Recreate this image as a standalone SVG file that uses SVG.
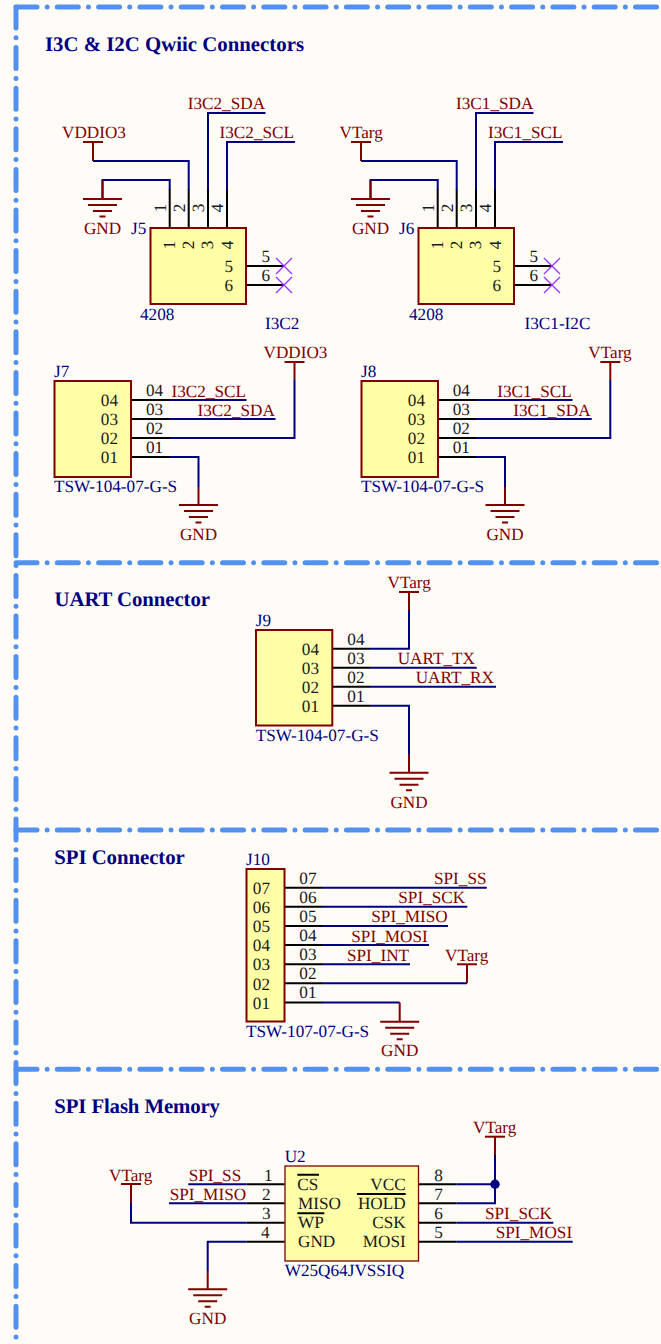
<svg xmlns="http://www.w3.org/2000/svg" xmlns:xlink="http://www.w3.org/1999/xlink" width="661" height="1344" viewBox="0 0 661 1344">
<style>
text{font-family:"Liberation Serif","Times New Roman",serif;font-size:17.2px;text-rendering:geometricPrecision}
.t{font-size:20.8px;font-weight:bold;fill:#000080}
.n{fill:#800000}
.d{fill:#000080}
.p{fill:#1a1a1a}
.e{text-anchor:end}
.m{text-anchor:middle}
.box{fill:#FFFFA8;stroke:#800000;stroke-width:2}
.pin{fill:none;stroke:#000;stroke-width:2}
.w{fill:none;stroke:#000080;stroke-width:2}
.r{fill:none;stroke:#800000;stroke-width:2}
.x{fill:none;stroke:#9933FF;stroke-width:1.300}
.fh{fill:none;stroke:#5291EE;stroke-width:5;stroke-linecap:round;stroke-dasharray:21 10.15 0 10.15}
.fv{fill:none;stroke:#5291EE;stroke-width:5;stroke-linecap:round;stroke-dasharray:21 9.8 0 9.8}
</style>
<defs>
<g id="gnd"><path class="r" d="M-19.500 0H19.500M-14.500 6H14.500M-9.500 12H9.500M-3 17.500H3"/></g>
<g id="pwr"><path class="r" d="M-10 0H10"/></g>
<g id="nc"><path class="x" d="M-8-8L8 8M-8 8L8-8"/></g>
</defs>
<rect width="661" height="1344" fill="#FFFCF8"/>
<g id="frame">
<path class="fv" d="M16 7V1344"/>
<path class="fh" d="M16 7H661"/>
<path class="fh" d="M16 562.700H661"/>
<path class="fh" d="M16 830H661"/>
<path class="fh" d="M16 1069.300H661"/>
</g>
<g id="titles">
<text class="t" x="45" y="51" textLength="259">I3C &amp; I2C Qwiic Connectors</text>
<text class="t" x="54.500" y="606" textLength="155.500">UART Connector</text>
<text class="t" x="54.300" y="864.300" textLength="130.500">SPI Connector</text>
<text class="t" x="54.300" y="1113.300" textLength="165.700">SPI Flash Memory</text>
</g>
<g id="connectors">
<path class="w" d="M102.500 199V180H169.700V190"/>
<path class="w" d="M93 161H188.700V190"/>
<path class="r" d="M93 142V161"/>
<path class="w" d="M208 190V113H265.500"/>
<path class="w" d="M227 190V142H295"/>
<path class="w" d="M370.500 199V180H437.700V190"/>
<path class="w" d="M361 161H456.700V190"/>
<path class="r" d="M361 142V161"/>
<path class="w" d="M476 190V113H533.500"/>
<path class="w" d="M495 190V142H563"/>
<path class="r" d="M102.500 180V199M370.500 180V199"/>
<path class="w" d="M169 400H246.500M169 419H275.500M169 438H294.500V380M169 457H198.500V487"/>
<path class="r" d="M294.500 362V380M198.500 487V505"/>
<path class="w" d="M476 400H572.500M476 419H591.700M476 438H610.300V380M476 457H505V487"/>
<path class="r" d="M610.300 362V380M505 487V505"/>
<path class="w" d="M370 648.700H409V610M370 667.700H476.700M370 686.700H496M370 705.700H409V754"/>
<path class="r" d="M409 592V610M409 754V772.700"/>
<path class="w" d="M322 887.700H486.700M322 906.700H467.300M322 926H448M322 945H429M322 964.300H410M322 983.300H467M322 1002.500H399.700"/>
<path class="r" d="M467 964.300V983.300M399.700 1002.500V1021.700"/>
<path class="w" d="M246.700 1184.300H188.300M246.700 1203.300H169M246.700 1222.700H131V1203M246.700 1241.700H207.700V1271"/>
<path class="r" d="M131 1184V1203M207.700 1271V1289.300"/>
<path class="w" d="M456.700 1184.300H495M456.700 1203.300H495V1155M456.700 1222.700H553.300M456.700 1241.700H572.700"/>
<path class="r" d="M495 1136.700V1155"/>
<circle cx="495" cy="1184.300" r="4.700" fill="#000080"/>
</g>
<g id="J5">
<path class="pin" d="M169.700 189.500V228M188.700 189.500V228M208 189.500V228M227 189.500V228M246 266H284M246 285H284"/>
<rect class="box" x="150.500" y="228" width="95.500" height="76"/>
<use xlink:href="#nc" href="#nc" x="284" y="266"/><use xlink:href="#nc" href="#nc" x="284" y="285"/>
<text class="d" x="131" y="234">J5</text><text class="d" x="140" y="320">4208</text><text class="d" x="265" y="329">I3C2</text>
<text class="p m" transform="translate(166 208) rotate(-90)">1</text><text class="p m" transform="translate(184.800 208) rotate(-90)">2</text><text class="p m" transform="translate(204 208) rotate(-90)">3</text><text class="p m" transform="translate(223 208) rotate(-90)">4</text>
<text class="p m" transform="translate(175 245) rotate(-90)">1</text><text class="p m" transform="translate(194 245) rotate(-90)">2</text><text class="p m" transform="translate(213 245) rotate(-90)">3</text><text class="p m" transform="translate(232.500 245) rotate(-90)">4</text>
<text class="p e" x="233" y="272">5</text><text class="p e" x="233" y="291">6</text>
<text class="p" x="261.500" y="262">5</text><text class="p" x="261.500" y="281">6</text>
</g>
<g id="J6">
<path class="pin" d="M437.700 189.500V228M456.700 189.500V228M476 189.500V228M495 189.500V228M514 266H552M514 285H552"/>
<rect class="box" x="418.500" y="228" width="95.500" height="76"/>
<use xlink:href="#nc" href="#nc" x="552" y="266"/><use xlink:href="#nc" href="#nc" x="552" y="285"/>
<text class="d" x="399" y="234">J6</text><text class="d" x="409" y="320">4208</text><text class="d" x="524.500" y="329">I3C1-I2C</text>
<text class="p m" transform="translate(434 208) rotate(-90)">1</text><text class="p m" transform="translate(452.800 208) rotate(-90)">2</text><text class="p m" transform="translate(472 208) rotate(-90)">3</text><text class="p m" transform="translate(491 208) rotate(-90)">4</text>
<text class="p m" transform="translate(443 245) rotate(-90)">1</text><text class="p m" transform="translate(462 245) rotate(-90)">2</text><text class="p m" transform="translate(481 245) rotate(-90)">3</text><text class="p m" transform="translate(500.500 245) rotate(-90)">4</text>
<text class="p e" x="501" y="272">5</text><text class="p e" x="501" y="291">6</text>
<text class="p" x="529.500" y="262">5</text><text class="p" x="529.500" y="281">6</text>
</g>
<g id="J7">
<path class="pin" d="M131 400H169.500M131 419H169.500M131 438H169.500M131 457H169.500"/>
<rect class="box" x="54.500" y="381" width="76.500" height="96"/>
<text class="d" x="54" y="376.500">J7</text><text class="d" x="54" y="491.500">TSW-104-07-G-S</text>
<text class="p e" x="118" y="406">04</text><text class="p e" x="118" y="425">03</text><text class="p e" x="118" y="444">02</text><text class="p e" x="118" y="463">01</text>
<text class="p" x="146" y="396">04</text><text class="p" x="146" y="415">03</text><text class="p" x="146" y="434">02</text><text class="p" x="146" y="453">01</text>
</g>
<g id="J8">
<path class="pin" d="M438 400H476M438 419H476M438 438H476M438 457H476"/>
<rect class="box" x="361.500" y="381" width="76.500" height="96"/>
<text class="d" x="361" y="376.500">J8</text><text class="d" x="361" y="491.500">TSW-104-07-G-S</text>
<text class="p e" x="425" y="406">04</text><text class="p e" x="425" y="425">03</text><text class="p e" x="425" y="444">02</text><text class="p e" x="425" y="463">01</text>
<text class="p" x="452.700" y="396">04</text><text class="p" x="452.700" y="415">03</text><text class="p" x="452.700" y="434">02</text><text class="p" x="452.700" y="453">01</text>
</g>
<g id="J9">
<path class="pin" d="M332 648.700H370M332 667.700H370M332 686.700H370M332 705.700H370"/>
<rect class="box" x="256" y="630" width="76.300" height="95.500"/>
<text class="d" x="255.700" y="626">J9</text><text class="d" x="255.700" y="741">TSW-104-07-G-S</text>
<text class="p e" x="319" y="655">04</text><text class="p e" x="319" y="674">03</text><text class="p e" x="319" y="693">02</text><text class="p e" x="319" y="712">01</text>
<text class="p" x="347.300" y="645">04</text><text class="p" x="347.300" y="664">03</text><text class="p" x="347.300" y="683">02</text><text class="p" x="347.300" y="702">01</text>
</g>
<g id="J10">
<path class="pin" d="M284.700 887.700H322.300M284.700 906.700H322.300M284.700 926H322.300M284.700 945H322.300M284.700 964.300H322.300M284.700 983.300H322.300M284.700 1002.500H322.300"/>
<rect class="box" x="246.500" y="869" width="38" height="152.500"/>
<text class="d" x="246" y="865">J10</text><text class="d" x="246" y="1037">TSW-107-07-G-S</text>
<text class="p e" x="270" y="894">07</text><text class="p e" x="270" y="913">06</text><text class="p e" x="270" y="932">05</text><text class="p e" x="270" y="951">04</text><text class="p e" x="270" y="970">03</text><text class="p e" x="270" y="989.500">02</text><text class="p e" x="270" y="1008.500">01</text>
<text class="p" x="299.300" y="883.500">07</text><text class="p" x="299.300" y="902.500">06</text><text class="p" x="299.300" y="921.500">05</text><text class="p" x="299.300" y="941">04</text><text class="p" x="299.300" y="960">03</text><text class="p" x="299.300" y="979">02</text><text class="p" x="299.300" y="998">01</text>
</g>
<g id="U2">
<path class="pin" d="M246.700 1184.300H284.700M246.700 1203.300H284.700M246.700 1222.700H284.700M246.700 1241.700H284.700M418.700 1184.300H456.700M418.700 1203.300H456.700M418.700 1222.700H456.700M418.700 1241.700H456.700"/>
<rect x="285" y="1166" width="133.500" height="95" fill="#FFFFA8" stroke="#800000" stroke-width="1.300"/>
<path class="pin" d="M297.300 1174.700H319M297.300 1213.300H324.300M357 1194H405.700"/>
<text class="d" x="284.700" y="1162">U2</text><text class="d" x="284.700" y="1275.700">W25Q64JVSSIQ</text>
<text class="p" x="297.300" y="1190">CS</text><text class="p" x="298" y="1209">MISO</text><text class="p" x="298" y="1228">WP</text><text class="p" x="298" y="1247">GND</text>
<text class="p e" x="405.700" y="1190">VCC</text><text class="p e" x="405.700" y="1209">HOLD</text><text class="p e" x="405.700" y="1228">CSK</text><text class="p e" x="405.700" y="1247">MOSI</text>
<text class="p" x="264" y="1181">1</text><text class="p" x="262" y="1200">2</text><text class="p" x="262" y="1219">3</text><text class="p" x="261" y="1238">4</text>
<text class="p" x="434.300" y="1181">8</text><text class="p" x="434.300" y="1200">7</text><text class="p" x="434.300" y="1219">6</text><text class="p" x="434.300" y="1238">5</text>
</g>
<g id="power-ports">
<use xlink:href="#gnd" href="#gnd" x="102.500" y="199"/><text class="n m" x="102.500" y="234">GND</text>
<use xlink:href="#pwr" href="#pwr" x="93" y="142"/><text class="n" x="62" y="138">VDDIO3</text>
<use xlink:href="#gnd" href="#gnd" x="370.500" y="199"/><text class="n m" x="370.500" y="234">GND</text>
<use xlink:href="#pwr" href="#pwr" x="361" y="142"/><text class="n" x="339.500" y="138">VTarg</text>
<use xlink:href="#gnd" href="#gnd" x="198.500" y="505"/><text class="n m" x="198.500" y="540">GND</text>
<use xlink:href="#pwr" href="#pwr" x="294.500" y="362"/><text class="n" x="263.500" y="358">VDDIO3</text>
<use xlink:href="#gnd" href="#gnd" x="505" y="505"/><text class="n m" x="505" y="540">GND</text>
<use xlink:href="#pwr" href="#pwr" x="610.300" y="362"/><text class="n" x="588.300" y="358">VTarg</text>
<use xlink:href="#pwr" href="#pwr" x="409" y="592"/><text class="n" x="387.500" y="588">VTarg</text>
<use xlink:href="#gnd" href="#gnd" x="409" y="772.700"/><text class="n m" x="409" y="808">GND</text>
<use xlink:href="#pwr" href="#pwr" x="467" y="964.300"/><text class="n" x="445" y="961">VTarg</text>
<use xlink:href="#gnd" href="#gnd" x="399.700" y="1021.700"/><text class="n m" x="399.700" y="1056">GND</text>
<use xlink:href="#pwr" href="#pwr" x="131" y="1184"/><text class="n" x="109" y="1181">VTarg</text>
<use xlink:href="#gnd" href="#gnd" x="207.700" y="1289.300"/><text class="n m" x="207.700" y="1324">GND</text>
<use xlink:href="#pwr" href="#pwr" x="495" y="1136.700"/><text class="n" x="473" y="1133">VTarg</text>
</g>
<g id="net-labels">
<text class="n" x="187.700" y="109">I3C2_SDA</text><text class="n" x="219.500" y="138">I3C2_SCL</text>
<text class="n" x="456" y="109">I3C1_SDA</text><text class="n" x="488" y="138">I3C1_SCL</text>
<text class="n" x="171.500" y="396.500">I3C2_SCL</text><text class="n" x="197.500" y="416">I3C2_SDA</text>
<text class="n" x="497.300" y="396.500">I3C1_SCL</text><text class="n" x="513.300" y="416">I3C1_SDA</text>
<text class="n" x="397.700" y="664">UART_TX</text><text class="n" x="415.700" y="683">UART_RX</text>
<text class="n" x="434" y="884.300">SPI_SS</text><text class="n" x="398.300" y="903">SPI_SCK</text><text class="n" x="371.300" y="922.300">SPI_MISO</text><text class="n" x="351.300" y="942">SPI_MOSI</text><text class="n" x="347" y="961">SPI_INT</text>
<text class="n" x="188.700" y="1181">SPI_SS</text><text class="n" x="169.700" y="1200">SPI_MISO</text>
<text class="n" x="485" y="1219">SPI_SCK</text><text class="n" x="495.700" y="1238">SPI_MOSI</text>
</g>
</svg>
